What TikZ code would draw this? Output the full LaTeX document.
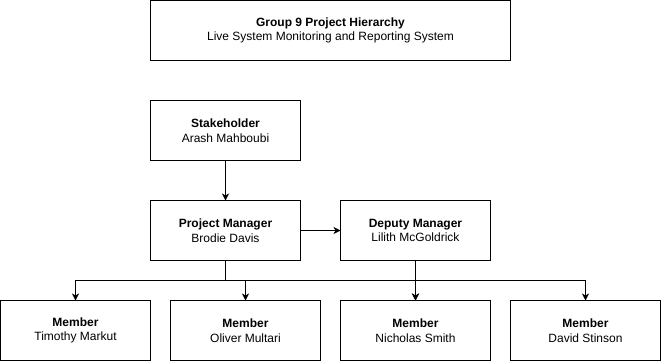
\documentclass[tikz,border=0pt]{standalone}
\usepackage{fontspec}
\setmainfont{Liberation Sans}
\usetikzlibrary{arrows.meta}

\begin{document}
\begin{tikzpicture}[x=1pt,y=-1pt,
box/.style={draw,line width=1pt,inner sep=0,outer sep=0,
  minimum width=150pt,minimum height=60pt,align=center,
  font=\fontsize{12}{14.5}\selectfont},
link/.style={line width=1pt,-{Stealth[length=7pt,width=7pt,inset=2pt]}}]%
\useasboundingbox (0,0) rectangle (661,362);
\node[box,minimum width=360pt] (title) at (330.5,30.5)
  {\textbf{Group 9 Project Hierarchy}\\Live System Monitoring and Reporting System};
\node[box] (stake) at (225.5,130.5) {\textbf{Stakeholder}\\Arash Mahboubi};
\node[box] (pm) at (225.5,230.5) {\textbf{Project Manager}\\Brodie Davis};
\node[box] (dm) at (415.5,230.5) {\textbf{Deputy Manager}\\Lilith McGoldrick};
\node[box] (m1) at (75.5,330.5) {\textbf{Member}\\Timothy Markut};
\node[box] (m2) at (245.5,330.5) {\textbf{Member}\\Oliver Multari};
\node[box] (m3) at (415.5,330.5) {\textbf{Member}\\Nicholas Smith};
\node[box] (m4) at (585.5,330.5) {\textbf{Member}\\David Stinson};
\coordinate (bus) at (0,280.5);% level of the shared branch line
\draw[link] (stake) -- (pm);
\draw[link] (pm) -- (dm);
\foreach \m in {m1,m2,m3}
  \draw[link] (pm.south) -- (pm.south |- bus) -| (\m.north);
\foreach \m in {m3,m4}
  \draw[link] (dm.south) -- (dm.south |- bus) -| (\m.north);
\end{tikzpicture}
\end{document}
